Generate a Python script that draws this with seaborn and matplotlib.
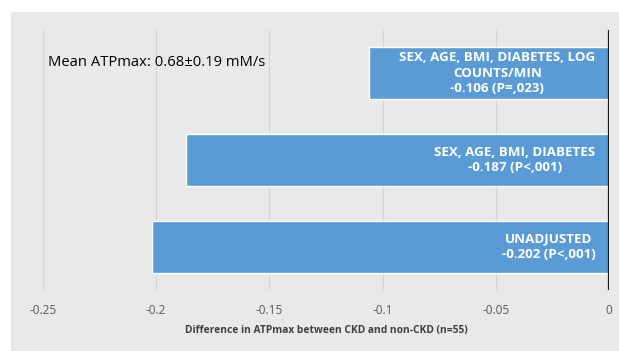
import pandas as pd
import matplotlib
matplotlib.use('Agg')
import matplotlib.pyplot as plt
import seaborn as sns
from matplotlib.patches import Rectangle

# Data
models = ['SEX, AGE, BMI, DIABETES, LOG\nCOUNTS/MIN', 'SEX, AGE, BMI, DIABETES', 'UNADJUSTED']
diff = [-0.106, -0.187, -0.202]
pvals = ['P=,023', 'P<,001', 'P<,001']
xticks = [-0.25, -0.2, -0.15, -0.1, -0.05, 0]
xtick_labels = ['-0.25', '-0.2', '-0.15', '-0.1', '-0.05', '0']

df = pd.DataFrame({'model': models, 'diff': diff, 'p': pvals})

sns.set_theme(style='white')
plt.rcParams['font.family'] = ['Open Sans', 'DejaVu Sans']

fig = plt.figure(figsize=(6.19, 3.51), dpi=100, facecolor='white')
# grey chart panel with white strip on top / left
fig.patches.append(Rectangle((11 / 619, 0), 1, 1 - 12 / 351, transform=fig.transFigure,
                             facecolor='#e9e9e9', edgecolor='none', zorder=-10))

ax = fig.add_axes([43 / 619, 61 / 351, 566 / 619, 260 / 351])
ax.set_facecolor('none')

sns.barplot(data=df, x='diff', y='model', orient='h', color='#5b9bd5',
            saturation=1, width=0.6, ax=ax)

ax.set_xlim(-0.25, 0)
ax.set_ylim(2.5, -0.5)
ax.set_xticks(xticks)
ax.set_xticklabels(xtick_labels, fontsize=8.5, color='#595959')
ax.set_yticks([])
ax.set_ylabel('')
ax.set_xlabel('Difference in ATPmax between CKD and non-CKD (n=55)',
              fontsize=7.4, fontweight='bold', color='#404040', labelpad=6)
ax.tick_params(axis='x', length=0, pad=10)
for s in ax.spines.values():
    s.set_visible(False)
ax.xaxis.grid(True, color='#d4d4d4', lw=0.8)
ax.set_axisbelow(True)
ax.axvline(0, color='#1a1a1a', lw=1.6, zorder=5)

# bar labels
for i, row in df.iterrows():
    ax.text(-0.006, i, f"{row['model']}\n{row['diff']:.3f} ({row['p']})",
            ha='right', va='center', multialignment='center', color='white',
            fontsize=9.6, fontweight='bold', linespacing=1.25)

fig.text(48 / 619, 1 - 62 / 351, 'Mean ATPmax: 0.68\u00b10.19 mM/s',
         fontsize=10.6, color='black', va='center', ha='left')

fig.savefig('out.png', dpi=100, facecolor=fig.get_facecolor())
